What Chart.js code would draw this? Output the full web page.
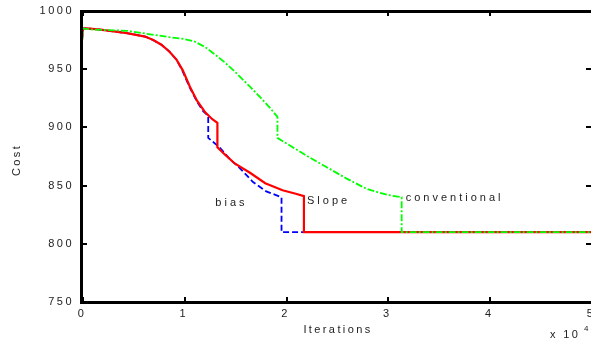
<!DOCTYPE html>
<html>
<head>
<meta charset="utf-8">
<script src="https://cdn.jsdelivr.net/npm/chart.js@4.4.1/dist/chart.umd.min.js"></script>
<style>
  html, body { margin: 0; padding: 0; background: #fff; }
  canvas { display: block; }
</style>
</head>
<body>
<canvas id="myChart" width="591" height="343"></canvas>
<script>
// Iterations are in units of 10^4
const slopeX = [0, 0.01, 0.05, 0.18, 0.44, 0.62, 0.7, 0.78, 0.86, 0.93, 0.99, 1.06, 1.13, 1.21, 1.28, 1.33, 1.33, 1.4, 1.5, 1.65, 1.8, 1.97, 2.1, 2.18, 2.18, 5];
const slopeY = [975, 985, 985, 984, 981, 978, 975, 971, 965, 958, 949, 935, 923, 913, 907, 904, 883, 877, 869, 861, 852, 846, 843, 841, 810, 810];

const biasX = [0, 0.01, 0.05, 0.18, 0.44, 0.62, 0.7, 0.78, 0.86, 0.93, 0.99, 1.06, 1.13, 1.19, 1.24, 1.24, 1.35, 1.45, 1.55, 1.68, 1.81, 1.96, 1.96, 2.18];
const biasY = [975, 985, 985, 984, 981, 978, 975, 971, 965, 958, 948, 934, 922, 914, 910, 891, 883, 873, 865, 853, 845, 840, 810, 810];

const convX = [0, 0.01, 0.1, 0.44, 0.86, 1.0, 1.1, 1.21, 1.3, 1.4, 1.5, 1.65, 1.75, 1.84, 1.92, 1.92, 2.05, 2.2, 2.4, 2.6, 2.8, 3.0, 3.14, 3.14, 5];
const convY = [973, 985, 984, 983, 977.5, 976, 974, 969, 963, 956, 948, 935, 926, 917.5, 909, 891, 884, 876, 866, 856, 847, 842, 840, 810, 810];

const xTicks = [0, 1, 2, 3, 4, 5];
const yTicks = [750, 800, 850, 900, 950, 1000];

// label text, anchored at [x, y] data position
const notes = [
    { text: "bias", x: 1.31, y: 835 },
    { text: "Slope", x: 2.21, y: 837 },
    { text: "conventional", x: 3.18, y: 839 }
];

const FONT = "11px 'Liberation Sans', Arial, sans-serif";
const TEXT = "#222";

function pts(xs, ys) {
    return xs.map((x, i) => ({ x: x, y: ys[i] }));
}

// frame, inward ticks, and free text
const extras = {
    id: "extras",
    beforeDraw(chart) {
        chart.ctx.letterSpacing = "2.5px";
    },
    afterDraw(chart) {
        const ctx = chart.ctx;
        const sx = chart.scales.x, sy = chart.scales.y;
        const L = Math.round(sx.left), R = Math.round(sx.right);
        const T = Math.round(sy.top), B = Math.round(sy.bottom);
        ctx.save();
        ctx.fillStyle = "#000";
        // frame (filled rects)
        ctx.fillRect(L - 1, T - 1, R - L + 4, 3);
        ctx.fillRect(L - 1, B - 1, R - L + 4, 3);
        ctx.fillRect(L - 2, T - 1, 3, B - T + 3);
        // inward ticks
        xTicks.forEach(v => {
            const px = Math.round(sx.getPixelForValue(v));
            ctx.fillRect(px, B - 5, 2, 5);
            ctx.fillRect(px, T, 2, 5);
        });
        yTicks.forEach(v => {
            const py = Math.round(sy.getPixelForValue(v));
            ctx.fillRect(L, py - 1, 5, 2);
            ctx.fillRect(R - 5, py - 1, 5, 2);
        });

        ctx.fillStyle = TEXT;
        ctx.font = FONT;
        ctx.letterSpacing = "3px";
        ctx.textBaseline = "middle";
        ctx.textAlign = "left";
        notes.forEach(n => {
            ctx.fillText(n.text, sx.getPixelForValue(n.x), sy.getPixelForValue(n.y));
        });

        ctx.letterSpacing = "2.4px";
        ctx.textAlign = "center";
        ctx.fillText("Iterations", 338, 330);
        ctx.textAlign = "left";
        ctx.fillText("x 10", 550, 335);
        ctx.font = "8px 'Liberation Sans', Arial, sans-serif";
        ctx.fillText("4", 584, 329);

        ctx.font = FONT;
        ctx.translate(17, 160);
        ctx.rotate(-Math.PI / 2);
        ctx.textAlign = "center";
        ctx.fillText("Cost", 0, 0);
        ctx.restore();
    }
};

window.onload = () => {
    const ctx = document.getElementById("myChart");
    new Chart(ctx, {
        type: "line",
        data: {
            datasets: [
                {
                    label: "conventional",
                    data: pts(convX, convY),
                    borderColor: "#00ff00",
                    borderWidth: 1.8,
                    borderDash: [7, 2, 2, 2]
                },
                {
                    label: "Slope",
                    data: pts(slopeX, slopeY),
                    borderColor: "#ff0000",
                    borderWidth: 2.2
                },
                {
                    label: "bias",
                    data: pts(biasX, biasY),
                    borderColor: "#0000ff",
                    borderWidth: 1.8,
                    borderDash: [6, 3]
                }
            ]
        },
        options: {
            responsive: false,
            animation: false,
            events: [],
            layout: { padding: { left: 0, right: 0, top: 11, bottom: 0 } },
            elements: {
                point: { radius: 0 },
                line: { tension: 0, fill: false }
            },
            plugins: {
                legend: { display: false },
                tooltip: { enabled: false }
            },
            scales: {
                x: {
                    type: "linear",
                    min: 0,
                    max: 5,
                    border: { display: false },
                    grid: { display: false, drawTicks: false },
                    ticks: {
                        stepSize: 1,
                        padding: 5,
                        color: TEXT,
                        font: { family: "'Liberation Sans', Arial, sans-serif", size: 11 },
                        maxRotation: 0
                    },
                    afterFit: s => {
                        s.height = 41;
                        s.paddingLeft = 0;
                        s.paddingRight = 0;
                    }
                },
                y: {
                    type: "linear",
                    min: 750,
                    max: 1000,
                    border: { display: false },
                    grid: { display: false, drawTicks: false },
                    ticks: {
                        stepSize: 50,
                        padding: 8,
                        color: TEXT,
                        font: { family: "'Liberation Sans', Arial, sans-serif", size: 11 },
                        callback: v => String(v)
                    },
                    afterFit: s => {
                        s.width = 82;
                        s.paddingTop = 0;
                        s.paddingBottom = 0;
                    }
                }
            }
        },
        plugins: [extras]
    });
};
</script>
</body>
</html>
